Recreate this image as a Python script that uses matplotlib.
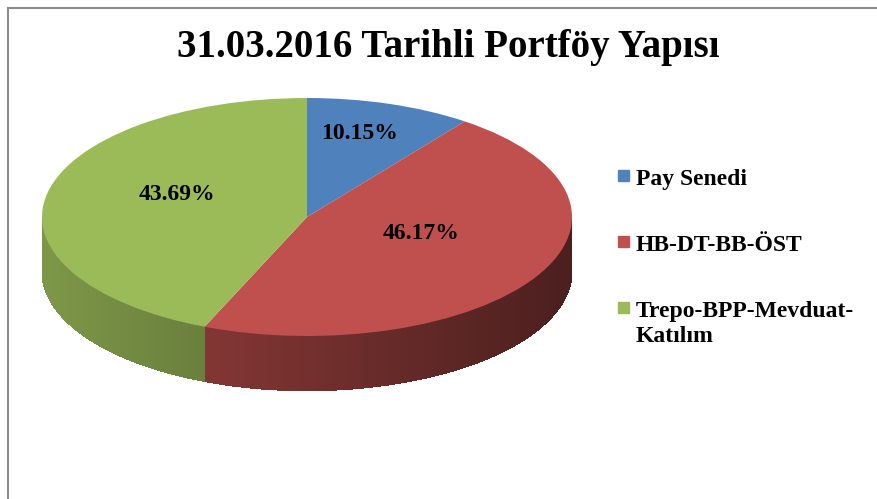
import numpy as np
import matplotlib.pyplot as plt
from matplotlib.collections import PolyCollection
from matplotlib.patches import Polygon, Rectangle
from matplotlib.lines import Line2D
from matplotlib.colors import to_rgb

labels = ['Pay Senedi', 'HB-DT-BB-ÖST', 'Trepo-BPP-Mevduat-\nKatılım']
values = [10.15, 46.17, 43.69]
pct_text = ['10.15%', '46.17%', '43.69%']
colors = ['#4F81BD', '#C0504D', '#9BBB59']
# where Excel put the percent labels (data units on the squashed pie)
label_pos = [(0.20, 0.70), (0.43, -0.14), (-0.49, 0.19)]

W, H = 877, 499
cx, cy = 307, 217          # pie centre in pixels (from top-left)
rx, ry = 265, 119          # ellipse radii in pixels
depth = 0.46               # thickness of the pie, in y units

serif = 'Liberation Serif'

fig = plt.figure(figsize=(W / 100, H / 100), dpi=100)
ax = fig.add_axes([0, 0, 1, 1])

wedges, _ = ax.pie(values, colors=colors, startangle=90, counterclock=False,
                   radius=1, wedgeprops=dict(linewidth=0, zorder=3))

# side wall of the 3d pie: front half only, shaded darker toward the right
def shade(base, x):
    return np.clip(base * (0.60 - 0.21 * x), 0, 1)

quads, qcols = [], []
for w, c in zip(wedges, colors):
    base = np.array(to_rgb(c))
    t1, t2 = sorted((w.theta1, w.theta2))
    for k in (-1, 0, 1):
        lo, hi = max(t1, 180 + 360 * k), min(t2, 360 + 360 * k)
        if hi <= lo:
            continue
        ts = np.radians(np.linspace(lo, hi, 120))
        xs, ys = np.cos(ts), np.sin(ts)
        outline = np.vstack([np.c_[xs, ys], np.c_[xs[::-1], ys[::-1] - depth]])
        # smooth (antialiased) silhouette underneath
        ax.add_patch(Polygon(outline, closed=True, lw=0, zorder=1,
                             facecolor=shade(base, xs.mean())))
        for i in range(len(ts) - 1):
            xa, ya, xb, yb = xs[i], ys[i], xs[i + 1], ys[i + 1]
            quads.append([(xa, ya), (xb, yb), (xb, yb - depth), (xa, ya - depth)])
            qcols.append(shade(base, (xa + xb) / 2))
ax.add_collection(PolyCollection(quads, facecolors=qcols, linewidths=0,
                                 antialiased=False, zorder=2))

for t, (x, y) in zip(pct_text, label_pos):
    ax.text(x, y, t, ha='center', va='center', fontsize=17, fontweight='bold',
            family=serif, color='black', zorder=5)

ax.set_aspect('auto')
ax.set_xlim(-cx / rx, (W - cx) / rx)
ax.set_ylim(-(H - cy) / ry, cy / ry)
ax.axis('off')

fig.text(448 / W, 1 - 57 / H, '31.03.2016 Tarihli Portföy Yapısı', ha='center',
         va='baseline', fontsize=28, fontweight='bold', family=serif)

# legend drawn by hand to match Excel spacing
leg_base = [185, 251, 317]
for lab, c, y in zip(labels, colors, leg_base):
    fig.patches.append(Rectangle((618 / W, 1 - (y - 4) / H), 11 / W, 11 / H,
                                 transform=fig.transFigure, color=c))
    lines = lab.split('\n')
    for j, ln in enumerate(lines):
        fig.text(636 / W, 1 - (y + 25 * j) / H, ln, ha='left', va='baseline',
                 fontsize=17, fontweight='bold', family=serif)

# chart frame
fig.add_artist(Line2D([8 / W, 8 / W], [0, 1 - 8 / H], color='#8c8c8c', lw=1.5,
                      transform=fig.transFigure))
fig.add_artist(Line2D([8 / W, 1], [1 - 8 / H, 1 - 8 / H], color='#8c8c8c', lw=1.5,
                      transform=fig.transFigure))

fig.savefig('out.png', dpi=100)
